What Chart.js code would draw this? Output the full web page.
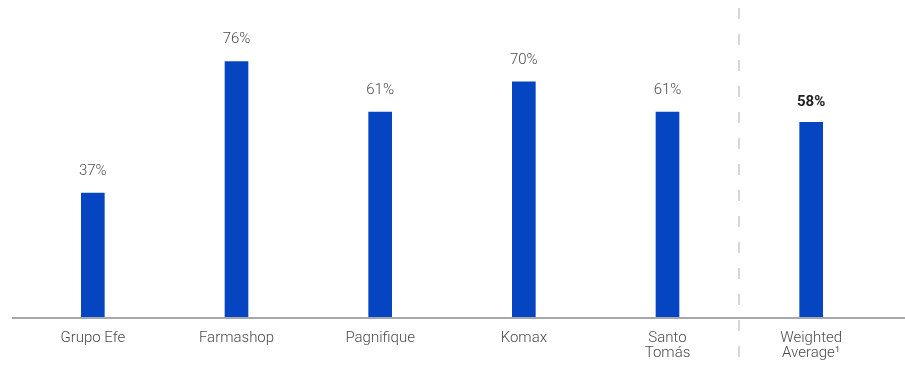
<!DOCTYPE html>
<html>
<head>
<meta charset="utf-8">
<script src="https://cdn.jsdelivr.net/npm/chart.js@4/dist/chart.umd.min.js"></script>
<style>
  html, body { margin: 0; padding: 0; background: #fff; }
  canvas { display: block; }
</style>
</head>
<body>
<canvas id="shareChart" width="905" height="370"></canvas>
<script>
// --- données ---
const categories = ['Grupo Efe', 'Farmashop', 'Pagnifique', 'Komax', ['Santo', 'Tomás'], ['Weighted', 'Average¹']];
const shareValues = [37, 76, 61, 70, 61, 58];
const valueLabels = ['37%', '76%', '61%', '70%', '61%', '58%'];
const averageIndex = 5; // barre mise en évidence (libellé en gras)

const BAR_COLOR = '#0645c2';
const TEXT_COLOR = '#4a4a4a';

// labels au-dessus des barres + ligne de base + séparateur pointillé
const overlayPlugin = {
    id: 'overlay',
    afterDatasetsDraw(chart) {
        const ctx = chart.ctx;
        const area = chart.chartArea;
        const meta = chart.getDatasetMeta(0);
        const xScale = chart.scales.x;

        ctx.save();
        // ligne de base
        ctx.strokeStyle = '#a4a8ac';
        ctx.lineWidth = 2;
        ctx.beginPath();
        ctx.moveTo(12, area.bottom);
        ctx.lineTo(chart.width, area.bottom);
        ctx.stroke();

        // séparateur avant la moyenne
        const sepX = Math.round((xScale.getPixelForValue(averageIndex - 1) + xScale.getPixelForValue(averageIndex)) / 2);
        ctx.strokeStyle = '#d6d6d6';
        ctx.lineWidth = 2;
        ctx.setLineDash([11, 15]);
        ctx.beginPath();
        ctx.moveTo(sepX, 8);
        ctx.lineTo(sepX, 362);
        ctx.stroke();
        ctx.setLineDash([]);

        // valeurs
        ctx.textAlign = 'center';
        ctx.textBaseline = 'middle';
        meta.data.forEach((bar, i) => {
            const isAvg = i === averageIndex;
            ctx.font = (isAvg ? 'bold ' : '300 ') + '15px Roboto';
            ctx.fillStyle = isAvg ? '#222' : TEXT_COLOR;
            ctx.fillText(valueLabels[i], bar.x, bar.y - (isAvg ? 20 : 22));
        });
        ctx.restore();
    }
};

new Chart(document.getElementById('shareChart').getContext('2d'), {
    type: 'bar',
    data: {
        labels: categories,
        datasets: [{
            data: shareValues,
            backgroundColor: BAR_COLOR,
            barThickness: 23
        }]
    },
    options: {
        responsive: false,
        animation: false,
        layout: { padding: { left: 21, right: 22, top: 48, bottom: 0 } },
        plugins: {
            legend: { display: false },
            tooltip: { enabled: false }
        },
        scales: {
            y: { display: false, min: 0, max: 80 },
            x: {
                grid: { display: false, drawTicks: false },
                border: { display: false },
                ticks: {
                    color: TEXT_COLOR,
                    font: { family: 'Roboto', size: 15, weight: '300', lineHeight: 1.05 },
                    padding: 12,
                    maxRotation: 0,
                    autoSkip: false
                },
                afterFit(scale) { scale.height = 52; }
            }
        }
    },
    plugins: [overlayPlugin]
});
</script>
</body>
</html>
